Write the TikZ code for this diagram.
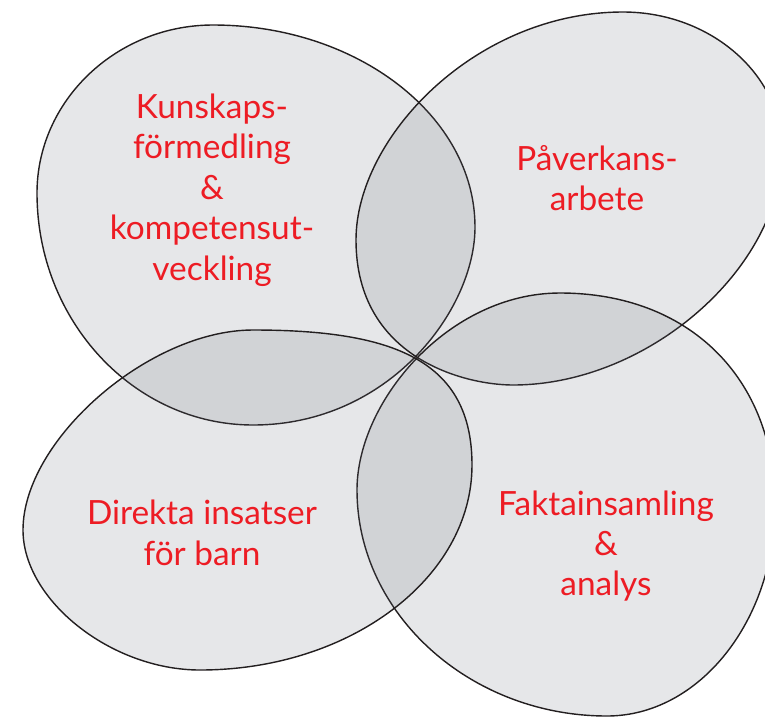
\documentclass[tikz,border=0pt]{standalone}
\usepackage{fontspec}
\setmainfont{Lato}

\definecolor{leafgrey}{RGB}{99,105,117}
\definecolor{leafline}{RGB}{35,31,32}
\definecolor{leafred}{RGB}{237,28,36}

\tikzset{
    leaf/.style={draw=leafline, line width=0.8pt, fill=leafgrey, fill opacity=0.16},
    leaftext/.style={text=leafred, align=center, font=\fontsize{19}{23}\selectfont},
}

\begin{document}
\begin{tikzpicture}[x=0.02cm, y=-0.02cm]

    \useasboundingbox (0,0) rectangle (765,718);

    % top left
    \path[leaf] (213,25) .. controls (116,25) and (37,101) .. (37,193)
        .. controls (37,321) and (134,425) .. (253,425)
        .. controls (389,425) and (475,310) .. (475,227)
        .. controls (475,116) and (357,25) .. cycle;

    % top right
    \path[leaf] (623,12) .. controls (476,12) and (356,137) .. (356,240)
        .. controls (356,359) and (466,385) .. (513,385)
        .. controls (648,385) and (782,268) .. (782,150)
        .. controls (782,74) and (710,12) .. cycle;

    % bottom right
    \path[leaf] (560,293) .. controls (449,293) and (357,401) .. (357,490)
        .. controls (357,614) and (470,716) .. (607,716)
        .. controls (699,716) and (775,621) .. (775,505)
        .. controls (775,378) and (689,293) .. cycle;

    % bottom left
    \path[leaf] (253,330) .. controls (149,330) and (23,440) .. (23,530)
        .. controls (23,600) and (111,670) .. (200,670)
        .. controls (350,670) and (472,578) .. (472,465)
        .. controls (472,360) and (393,330) .. cycle;

    \node[leaftext] (kunskap) at (212,190) {Kunskaps-\\förmedling\\\&\\kompetensut-\\veckling};
    \node[leaftext] (paverkan) at (597,178) {Påverkans-\\arbete};
    \node[leaftext] (direkt) at (202,533) {Direkta insatser\\för barn};
    \node[leaftext] (fakta) at (606,546) {Faktainsamling\\\&\\analys};

\end{tikzpicture}
\end{document}
